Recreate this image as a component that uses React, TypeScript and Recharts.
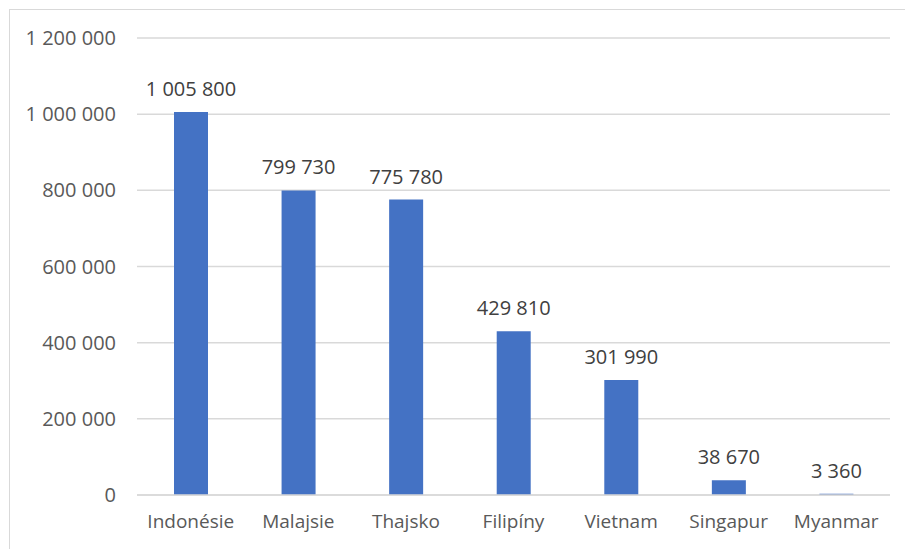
import { BarChart, Bar, XAxis, YAxis, CartesianGrid, LabelList } from "recharts";

const countries = [
  "Indonésie",
  "Malajsie",
  "Thajsko",
  "Filipíny",
  "Vietnam",
  "Singapur",
  "Myanmar",
];
const amounts = [1005800, 799730, 775780, 429810, 301990, 38670, 3360];
const yTicks = [0, 200000, 400000, 600000, 800000, 1000000, 1200000];

const data = countries.map((name, i) => ({ name, amount: amounts[i] }));

// 1 005 800 style grouping
const fmt = (v: number | string) =>
  String(v).replace(/\B(?=(\d{3})+(?!\d))/g, " ");

const font = "'Open Sans', sans-serif";

// value label above each bar, kept on one line
const ValueLabel = (props: any) => {
  const { x, y, width, value } = props;
  return (
    <text
      x={Number(x) + Number(width) / 2}
      y={Number(y) - 16}
      textAnchor="middle"
      fill="#404040"
      fontSize={20}
      fontFamily={font}
    >
      {fmt(value)}
    </text>
  );
};

export default function App() {
  return (
    <div
      style={{
        position: "absolute",
        left: 0,
        top: 0,
        width: 905,
        height: 549,
        background: "#fff",
        overflow: "hidden",
        fontFamily: font,
      }}
    >
      {/* frame around the chart area */}
      <div
        style={{
          position: "absolute",
          left: 9,
          top: 9,
          width: 920,
          height: 560,
          border: "1px solid #d9d9d9",
        }}
      />
      <BarChart
        width={905}
        height={549}
        data={data}
        margin={{ top: 38, right: 15, bottom: 0, left: 0 }}
        barSize={34}
        style={{ position: "absolute", left: 0, top: 0 }}
      >
        <CartesianGrid vertical={false} stroke="#d9d9d9" strokeWidth={1.5} />
        <XAxis
          dataKey="name"
          height={54}
          axisLine={{ stroke: "#d9d9d9", strokeWidth: 1.5 }}
          tickLine={false}
          tickMargin={14}
          tick={{ fill: "#595959", fontSize: 19, fontFamily: font }}
        />
        <YAxis
          width={137}
          domain={[0, 1200000]}
          ticks={yTicks}
          axisLine={false}
          tickLine={false}
          tickMargin={15}
          tickFormatter={fmt}
          tick={{ fill: "#595959", fontSize: 20, fontFamily: font }}
        />
        <Bar dataKey="amount" fill="#4472c4" isAnimationActive={false}>
          <LabelList dataKey="amount" content={ValueLabel} />
        </Bar>
      </BarChart>
    </div>
  );
}
